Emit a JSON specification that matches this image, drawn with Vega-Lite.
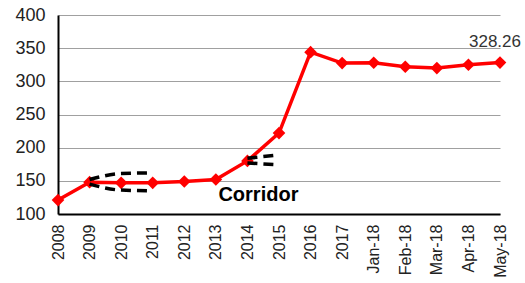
{
  "$schema": "https://vega.github.io/schema/vega-lite/v6.json",
  "width": 442,
  "height": 199,
  "autosize": {"type": "none"},
  "padding": {"left": 58, "top": 15, "right": 25, "bottom": 69},
  "background": "white",
  "config": {
    "view": {"stroke": null},
    "font": "Liberation Sans"
  },
  "datasets": {
    "main": [
      {"period": "2008", "value": 121},
      {"period": "2009", "value": 148},
      {"period": "2010", "value": 147},
      {"period": "2011", "value": 147},
      {"period": "2012", "value": 149},
      {"period": "2013", "value": 152},
      {"period": "2014", "value": 180},
      {"period": "2015", "value": 222},
      {"period": "2016", "value": 344},
      {"period": "2017", "value": 327.5},
      {"period": "Jan-18", "value": 328},
      {"period": "Feb-18", "value": 322},
      {"period": "Mar-18", "value": 320},
      {"period": "Apr-18", "value": 325},
      {"period": "May-18", "value": 328.26}
    ],
    "dash": [
      {"period": "2009", "value": 152, "grp": "a"},
      {"period": "2010", "value": 161, "grp": "a"},
      {"period": "2011", "value": 162, "grp": "a"},
      {"period": "2009", "value": 145, "grp": "b"},
      {"period": "2010", "value": 136, "grp": "b"},
      {"period": "2011", "value": 135, "grp": "b"},
      {"period": "2014", "value": 184, "grp": "c"},
      {"period": "2015", "value": 189, "grp": "c"},
      {"period": "2014", "value": 177, "grp": "d"},
      {"period": "2015", "value": 174, "grp": "d"}
    ],
    "notes": [
      {"period": "2014", "value": 128, "label": "Corridor"}
    ]
  },
  "encoding": {
    "x": {
      "field": "period",
      "type": "ordinal",
      "sort": null,
      "scale": {"type": "point", "padding": 0, "domain": ["2008","2009","2010","2011","2012","2013","2014","2015","2016","2017","Jan-18","Feb-18","Mar-18","Apr-18","May-18"]},
      "axis": {
        "title": null,
        "labelAngle": -90,
        "labelAlign": "right",
        "labelBaseline": "middle",
        "labelFontSize": 16,
        "labelColor": "#222",
        "labelPadding": 10,
        "ticks": false,
        "domainColor": "#000",
        "domainWidth": 2,
        "grid": false
      }
    },
    "y": {
      "field": "value",
      "type": "quantitative",
      "scale": {"domain": [100, 400], "nice": false, "zero": false},
      "axis": {
        "title": null,
        "values": [100, 150, 200, 250, 300, 350, 400],
        "labelFontSize": 18,
        "labelColor": "#222",
        "labelPadding": 13,
        "ticks": false,
        "domainColor": "#000",
        "domainWidth": 2,
        "grid": true,
        "gridColor": "#a0a0a0",
        "gridWidth": 1
      }
    }
  },
  "layer": [
    {
      "data": {"name": "main"},
      "mark": {"type": "line", "color": "#ff0000", "strokeWidth": 3.5}
    },
    {
      "data": {"name": "main"},
      "mark": {"type": "point", "shape": "diamond", "filled": true, "color": "#ff0000", "size": 160, "opacity": 1}
    },
    {
      "data": {"name": "dash"},
      "mark": {"type": "line", "color": "#000", "strokeWidth": 3.5, "strokeDash": [10, 6], "interpolate": "monotone"},
      "encoding": {"detail": {"field": "grp"}}
    },
    {
      "data": {"name": "main"},
      "transform": [{"filter": "datum.period === 'May-18'"}],
      "mark": {"type": "text", "fontSize": 17, "color": "#333", "dy": -21, "dx": -5},
      "encoding": {"text": {"field": "value", "format": ".2f"}}
    },
    {
      "data": {"name": "notes"},
      "mark": {"type": "text", "fontSize": 20, "fontWeight": "bold", "color": "#000", "dx": 11},
      "encoding": {"text": {"field": "label"}}
    }
  ]
}
